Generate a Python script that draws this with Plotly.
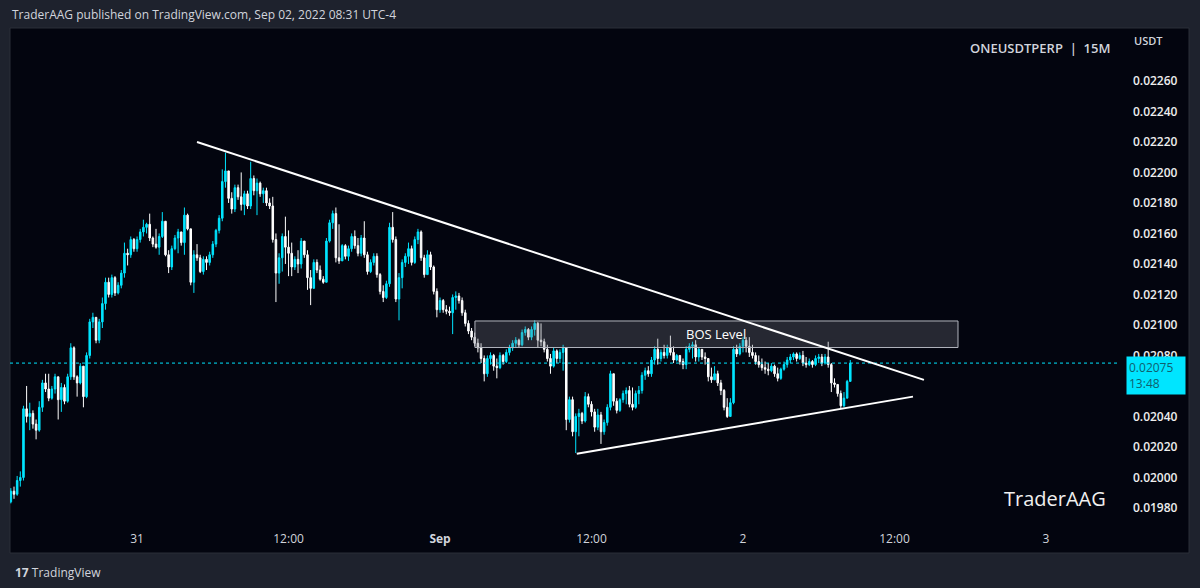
import pandas as pd
import plotly.graph_objects as go

# ---------------- data (prices in 1e-5 USDT) ----------------
start_time = "2022-08-30 14:00"
first_open = 1984
close = [1991,1989,1998,2000,2045,2040,2042,2035,2031,2046,
2062,2058,2052,2058,2066,2051,2059,2050,2066,2085,
2066,2062,2073,2053,2080,2102,2105,2090,2102,2114,
2128,2120,2131,2121,2126,2134,2147,2146,2156,2150,
2156,2161,2164,2166,2157,2153,2151,2158,2168,2146,
2138,2150,2157,2161,2154,2172,2163,2128,2146,2144,
2135,2143,2141,2146,2153,2162,2170,2194,2201,2183,
2176,2190,2184,2179,2186,2178,2196,2188,2193,2186,
2188,2180,2178,2156,2134,2144,2158,2151,2147,2138,
2143,2140,2155,2146,2131,2124,2141,2136,2130,2128,
2155,2167,2173,2144,2142,2152,2145,2150,2158,2152,
2147,2157,2146,2135,2141,2145,2133,2122,2118,2127,
2164,2156,2117,2131,2141,2145,2150,2141,2156,2161,
2144,2133,2146,2138,2122,2110,2116,2110,2109,2108,
2118,2119,2116,2108,2101,2096,2092,2088,2085,2078,
2068,2078,2080,2073,2072,2080,2076,2082,2085,2088,
2090,2087,2095,2097,2092,2097,2101,2090,2089,2084,
2078,2073,2083,2078,2082,2085,2038,2051,2030,2040,
2042,2037,2053,2048,2043,2033,2041,2030,2036,2046,
2068,2050,2044,2051,2055,2057,2048,2046,2055,2057,
2067,2070,2068,2077,2084,2078,2082,2080,2085,2082,
2077,2080,2076,2074,2084,2086,2087,2079,2084,2079,
2078,2066,2064,2068,2062,2057,2046,2040,2049,2084,
2081,2086,2090,2086,2082,2080,2076,2074,2072,2071,
2070,2073,2068,2065,2071,2074,2077,2079,2081,2078,
2080,2075,2074,2076,2074,2078,2079,2075,2079,2074,
2062,2061,2055,2047,2052,2063,2075]
high = [1993,1994,2001,2004,2047,2060,2049,2044,2038,2050,
2064,2068,2068,2060,2068,2066,2062,2061,2068,2088,
2086,2067,2075,2070,2082,2104,2108,2103,2104,2118,
2131,2131,2133,2132,2128,2136,2154,2150,2158,2157,
2158,2163,2169,2167,2173,2158,2163,2160,2174,2168,
2149,2152,2159,2163,2160,2177,2173,2161,2149,2153,
2146,2145,2145,2148,2155,2163,2172,2202,2213,2201,
2187,2192,2192,2200,2188,2188,2207,2198,2196,2194,
2190,2190,2183,2184,2160,2147,2160,2171,2162,2154,
2145,2149,2157,2154,2149,2136,2143,2143,2139,2132,
2157,2169,2175,2177,2166,2153,2153,2152,2160,2162,
2157,2159,2168,2148,2143,2147,2147,2134,2126,2129,
2167,2174,2158,2134,2143,2147,2154,2152,2158,2163,
2162,2146,2149,2148,2139,2124,2118,2117,2113,2112,
2120,2122,2121,2118,2110,2103,2098,2095,2091,2088,
2080,2080,2082,2081,2078,2082,2081,2084,2087,2090,
2092,2091,2097,2099,2098,2099,2103,2102,2101,2091,
2087,2081,2085,2084,2084,2087,2083,2053,2053,2042,
2045,2043,2056,2055,2050,2045,2045,2043,2038,2048,
2070,2067,2052,2052,2057,2059,2060,2059,2057,2060,
2069,2072,2073,2079,2086,2091,2084,2087,2087,2093,
2086,2081,2080,2078,2086,2088,2089,2090,2085,2084,
2082,2078,2072,2073,2070,2064,2058,2052,2052,2086,
2087,2088,2092,2092,2092,2087,2082,2080,2078,2076,
2075,2075,2074,2072,2072,2076,2079,2081,2082,2082,
2082,2083,2079,2078,2077,2080,2081,2081,2081,2089,
2075,2065,2061,2057,2056,2064,2077]
low = [1983,1986,1988,1994,1998,2036,2031,2032,2025,2030,
2043,2056,2050,2051,2055,2038,2043,2048,2049,2064,
2064,2053,2061,2046,2052,2078,2098,2088,2088,2098,
2110,2118,2118,2119,2120,2124,2131,2139,2144,2148,
2148,2154,2158,2160,2155,2151,2150,2146,2157,2145,
2134,2136,2149,2147,2152,2146,2162,2126,2121,2142,
2134,2133,2136,2139,2144,2151,2160,2168,2190,2180,
2173,2174,2182,2175,2172,2176,2176,2185,2172,2184,
2180,2178,2176,2154,2115,2127,2135,2140,2132,2132,
2136,2134,2137,2144,2123,2113,2124,2134,2129,2127,
2128,2154,2163,2141,2140,2142,2143,2142,2148,2150,
2145,2145,2144,2133,2134,2139,2131,2120,2115,2117,
2125,2154,2115,2103,2124,2138,2140,2139,2140,2153,
2142,2131,2134,2136,2120,2105,2108,2108,2107,2106,
2094,2110,2114,2106,2099,2094,2090,2086,2082,2075,
2063,2066,2074,2070,2065,2071,2074,2075,2080,2083,
2085,2085,2086,2093,2090,2090,2093,2085,2086,2082,
2076,2068,2072,2075,2075,2070,2031,2036,2027,2016,
2027,2035,2036,2046,2040,2030,2031,2022,2028,2034,
2044,2047,2042,2043,2049,2048,2046,2044,2045,2048,
2055,2064,2066,2066,2074,2074,2076,2078,2078,2080,
2075,2076,2074,2071,2071,2082,2078,2076,2076,2077,
2074,2063,2062,2066,2060,2054,2044,2039,2046,2048,
2079,2080,2082,2082,2079,2078,2074,2072,2070,2068,
2067,2069,2066,2063,2064,2070,2072,2075,2077,2076,
2077,2073,2072,2073,2072,2073,2075,2073,2074,2072,
2056,2059,2053,2045,2046,2052,2065]

# drawings (time, price in 1e-5)
down_line_t = ["2022-08-31 04:45", "2022-09-02 14:20"]
down_line_p = [2220, 2064]
up_line_t = ["2022-09-01 10:50", "2022-09-02 13:28"]
up_line_p = [2015.5, 2053]
bos_t = ["2022-09-01 02:46", "2022-09-02 17:02"]
bos_p = [2085.2, 2102.6]

price_ticks = [1980, 2000, 2020, 2040, 2060, 2080, 2100, 2120, 2140, 2160,
               2180, 2200, 2220, 2240, 2260]
time_tickvals = ["2022-08-31 00:00", "2022-08-31 12:00", "2022-09-01 00:00",
                 "2022-09-01 12:00", "2022-09-02 00:00", "2022-09-02 12:00",
                 "2022-09-03 00:00"]
time_ticktext = ["31", "12:00", "<b>Sep</b>", "12:00", "2", "12:00", "3"]

# ---------------- build ----------------
S = 1e-5
n = len(close)
times = pd.date_range(start_time, periods=n, freq="15min")
opens = [first_open] + close[:-1]
hi = [max(h, o, c) * S for h, o, c in zip(high, opens, close)]
lo = [min(l, o, c) * S for l, o, c in zip(low, opens, close)]
op = [o * S for o in opens]
cl = [c * S for c in close]

CYAN = "#00e5ff"
WHITE = "#ffffff"
PANEL = "#03050f"
OUTER = "#1e222d"
TXT = "#d1d4dc"
FONT = "Open Sans"

fig = go.Figure()
fig.add_trace(go.Candlestick(
    x=times, open=op, high=hi, low=lo, close=cl,
    increasing=dict(line=dict(color=CYAN, width=1), fillcolor=CYAN),
    decreasing=dict(line=dict(color=WHITE, width=1), fillcolor=WHITE),
    whiskerwidth=0, showlegend=False, hoverinfo="skip",
))

L, R, T, B = 10, 80, 28, 66
W, H = 1200, 588
pw, ph = W - L - R, H - T - B


def px(xp):
    return (xp - L) / pw


def py(yp):
    return (H - B - yp) / ph


shapes = []
# chart panel
shapes.append(dict(type="rect", xref="paper", yref="paper", x0=px(10), x1=px(1189),
                   y0=py(553), y1=py(28), fillcolor=PANEL,
                   line=dict(color="#2a2e39", width=1), layer="below"))
# current price dotted line
shapes.append(dict(type="line", xref="paper", yref="y", x0=0, x1=1,
                   y0=cl[-1], y1=cl[-1], line=dict(color=CYAN, width=1, dash="dot")))
# BOS box
shapes.append(dict(type="rect", xref="x", yref="y", x0=bos_t[0], x1=bos_t[1],
                   y0=bos_p[0] * S, y1=bos_p[1] * S,
                   fillcolor="rgba(120,123,134,0.30)",
                   line=dict(color="#b2b5be", width=1)))
# trend lines
shapes.append(dict(type="line", xref="x", yref="y", x0=down_line_t[0], x1=down_line_t[1],
                   y0=down_line_p[0] * S, y1=down_line_p[1] * S,
                   line=dict(color=WHITE, width=2)))
shapes.append(dict(type="line", xref="x", yref="y", x0=up_line_t[0], x1=up_line_t[1],
                   y0=up_line_p[0] * S, y1=up_line_p[1] * S,
                   line=dict(color=WHITE, width=2)))

annotations = [
    dict(text="TraderAAG published on TradingView.com, Sep 02, 2022 08:31 UTC-4",
         xref="paper", yref="paper", x=px(10), y=py(14), xanchor="left", yanchor="middle",
         showarrow=False, font=dict(family=FONT, size=12, color=TXT)),
    dict(text="ONEUSDTPERP  |  15M", xref="paper", yref="paper", x=px(1112), y=py(48),
         xanchor="right", yanchor="middle", showarrow=False,
         font=dict(family=FONT, size=13, color=TXT, weight=600)),
    dict(text="USDT", xref="paper", yref="paper", x=px(1148), y=py(40),
         xanchor="center", yanchor="middle", showarrow=False,
         font=dict(family=FONT, size=11, color=TXT, weight=600)),
    dict(text="TraderAAG", xref="paper", yref="paper", x=px(1108), y=py(498),
         xanchor="right", yanchor="middle", showarrow=False,
         font=dict(family=FONT, size=20, color="#f0f0f0", weight=500)),
    dict(text="BOS Level", xref="x", yref="y", x="2022-09-01 21:54",
         y=(bos_p[0] + bos_p[1]) / 2 * S, showarrow=False,
         font=dict(family=FONT, size=13, color=WHITE)),
    dict(text="0.02075<br>13:48", xref="paper", yref="y", x=px(1126), y=cl[-1],
         xanchor="left", yanchor="top", yshift=7, align="left", showarrow=False,
         width=54, bgcolor=CYAN, borderpad=2,
         font=dict(family=FONT, size=12, color="#10606e")),
    dict(text="<b>17</b> TradingView", xref="paper", yref="paper", x=px(13), y=py(572),
         xanchor="left", yanchor="middle", showarrow=False,
         font=dict(family=FONT, size=12, color=TXT)),
]

fig.update_layout(
    width=W, height=H,
    margin=dict(l=L, r=R, t=T, b=B),
    paper_bgcolor=OUTER, plot_bgcolor=PANEL,
    shapes=shapes, annotations=annotations,
    font=dict(family=FONT, color=TXT),
    xaxis=dict(type="date", range=["2022-08-30 13:56", "2022-09-03 05:52"],
               rangeslider=dict(visible=False), showgrid=False, zeroline=False,
               tickvals=time_tickvals, ticktext=time_ticktext, ticks="",
               ticklabelstandoff=8,
               tickfont=dict(family=FONT, size=12, color=TXT), showline=False),
    yaxis=dict(side="right", range=[0.019708, 0.022947], showgrid=False, zeroline=False,
               tickvals=[p * S for p in price_ticks],
               ticktext=[f"{p * S:.5f}" for p in price_ticks], ticks="",
               ticklabelstandoff=12,
               tickfont=dict(family=FONT, size=12, color="#eeeeee", weight=600),
               showline=False),
)

fig.write_html("out.html")
